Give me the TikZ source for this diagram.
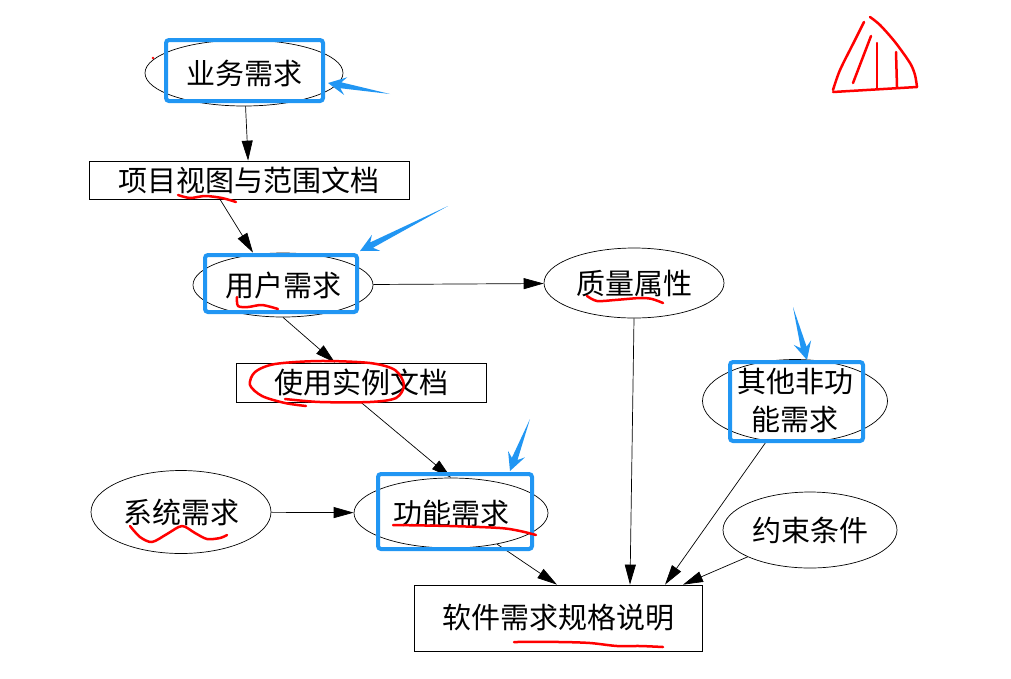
\documentclass[tikz,border=0pt]{standalone}
\usepackage{fontspec}
\setmainfont{Noto Sans CJK SC}
\usetikzlibrary{shapes.geometric,arrows.meta,calc}

\definecolor{annotblue}{RGB}{33,150,243}

% tapered hand-drawn pointer: #1 tail, #2 tip
\newcommand{\penarrow}[2]{%
  \path ($(#2)!18pt!(#1)$) coordinate (pa-h) ($(#2)!13pt!(#1)$) coordinate (pa-s);
  \fill[annotblue] (#1) -- ($(pa-s)!3pt!90:(#1)$) -- ($(pa-h)!9pt!90:(#1)$) -- (#2)
    -- ($(pa-h)!9pt!-90:(#1)$) -- ($(pa-s)!3pt!-90:(#1)$) -- cycle;
}

\tikzset{
  ell/.style={ellipse, draw, line width=0.7pt, inner sep=0pt},
  doc/.style={rectangle, draw, line width=0.7pt, inner sep=0pt},
  link/.style={-{Triangle[length=20pt,width=11pt]}, line width=0.7pt},
  hilite/.style={draw=annotblue, line width=4pt, rounded corners=3pt},
  scribble/.style={red, line width=2.5pt, line cap=round, line join=round},
}

\begin{document}
\begin{tikzpicture}[x=1pt, y=-1pt, font=\fontsize{29}{38}\selectfont]
  \useasboundingbox (0,0) rectangle (1011,678);

  % requirement nodes
  \node[ell, minimum width=198pt, minimum height=66pt] (ywxq) at (244,73) {业务需求};
  \node[doc, minimum width=320pt, minimum height=38pt] (xmst) at (249,180) {项目视图与范围文档};
  \node[ell, minimum width=180pt, minimum height=64pt] (yhxq) at (283,285) {用户需求};
  \node[ell, minimum width=180pt, minimum height=70pt] (zlsx) at (634,283) {质量属性};
  \node[doc, minimum width=250pt, minimum height=39pt] (syslwd) at (361,382.5) {使用实例文档};
  \node[ell, minimum width=185pt, minimum height=83pt] (qtfgn) at (795,401) {};
  \node[align=center, inner sep=0pt] (qtfgn-t) at (795,401) {其他非功\\能需求};
  \node[ell, minimum width=180pt, minimum height=83pt] (xtxq) at (181,512) {系统需求};
  \node[ell, minimum width=194pt, minimum height=70pt] (gnxq) at (451,513) {功能需求};
  \node[ell, minimum width=174pt, minimum height=76pt] (ysjt) at (810,530) {约束条件};
  \node[doc, minimum width=288pt, minimum height=66pt] (rjgg) at (558,618) {软件需求规格说明};

  % connectors
  \draw[link] (ywxq) -- (xmst);
  \draw[link] ([xshift=-29pt]xmst.south) -- ([xshift=-30pt]yhxq.north);
  \draw[link] (yhxq) -- (zlsx);
  \draw[link] (yhxq.south) -- ([xshift=-26pt]syslwd.north);
  \draw[link] (syslwd.south) -- (gnxq.north);
  \draw[link] (xtxq) -- (gnxq);
  \draw[link] (gnxq) -- ([xshift=-1pt]rjgg.north);
  \draw[link] (zlsx.south) -- ([xshift=72pt]rjgg.north);
  \draw[link] (qtfgn) -- ([xshift=107pt]rjgg.north);
  \draw[link] (ysjt) -- ([xshift=125pt]rjgg.north);

  % blue highlights
  \draw[hilite] (166,40) rectangle (323,101);
  \draw[hilite] (205,255) rectangle (357,312);
  \draw[hilite] (378,474) rectangle (532,549);
  \draw[hilite] (730,362) rectangle (863,441);
  \coordinate (p1t) at (390,94);  \coordinate (p1h) at (328,83);
  \coordinate (p2t) at (448,206); \coordinate (p2h) at (360,251);
  \coordinate (p3t) at (530,419); \coordinate (p3h) at (510,471);
  \coordinate (p4t) at (793,307); \coordinate (p4h) at (807,360);
  \penarrow{p1t}{p1h}
  \penarrow{p2t}{p2h}
  \penarrow{p3t}{p3h}
  \penarrow{p4t}{p4h}

  % red scribbles
  \fill[red] (153,58) circle (1.3pt);
  \draw[scribble] plot[smooth] coordinates {(178,195) (190,198) (205,196) (222,198) (236,202)};
  \draw[scribble] plot[smooth] coordinates {(237,297) (238,306) (248,307) (262,305) (278,309)};
  \draw[scribble] plot[smooth] coordinates {(587,296) (597,301) (615,300) (640,298) (652,299) (663,303)};
  \draw[scribble] plot[smooth] coordinates {(306,406) (285,403) (262,396) (250,385) (255,372) (275,364)
    (320,361) (370,363) (395,370) (404,385) (396,398) (370,402) (320,402) (285,399)};
  \draw[scribble] plot[smooth] coordinates {(130,526) (140,537) (152,542) (167,534) (182,526)
    (195,533) (207,539) (220,538) (227,535)};
  \draw[scribble] plot[smooth] coordinates {(393,525) (450,526) (500,528) (520,531) (536,535)};
  \draw[scribble] plot[smooth] coordinates {(514,642) (560,642) (590,643) (617,646) (640,646) (663,647)};

  % red triangle sketch
  \draw[scribble] plot[smooth] coordinates {(864,22) (855,40) (840,70) (833,90)};
  \draw[scribble] (833,92) -- (917,87);
  \draw[scribble] plot[smooth] coordinates {(870,17) (880,25) (895,42) (910,63) (915,75) (917,87)};
  \draw[scribble] (871,36) -- (853,83);
  \draw[scribble] (877,43) -- (877,89);
  \draw[scribble] (896,52) -- (897,87);
\end{tikzpicture}
\end{document}
